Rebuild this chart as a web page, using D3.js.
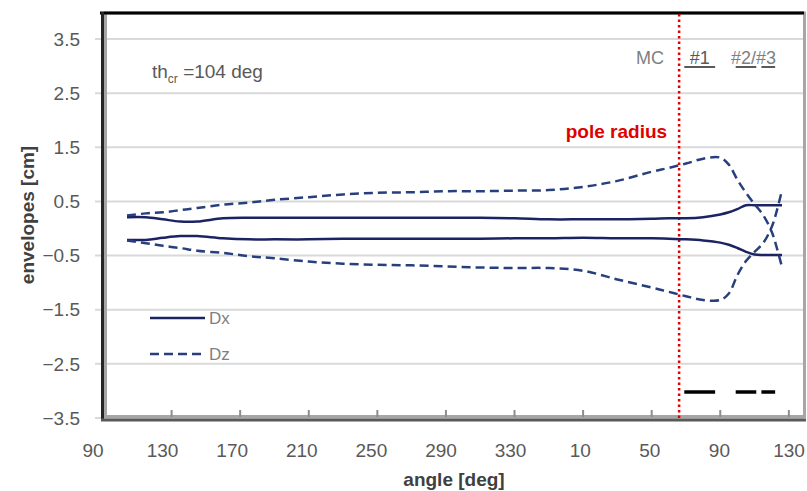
<!DOCTYPE html>
<html>
<head>
<meta charset="utf-8">
<script src="https://cdnjs.cloudflare.com/ajax/libs/d3/7.8.5/d3.min.js"></script>
<style>
body { margin: 0; background: #fff; }
svg text { font-family: "Liberation Sans", Arial, sans-serif; }
</style>
</head>
<body>
<svg id="chart" width="807" height="491"></svg>
<script>
// ===============
// DATA (read off)
// ===============
// angle is unwrapped: 370 = 10 deg, 450 = 90 deg, 490 = 130 deg
var angles  = [104, 115, 125, 135, 145, 160, 175, 190, 210, 230, 250, 270, 290, 310, 330, 350,
               370, 390, 410, 420, 430, 440, 450, 455, 460, 465, 470, 475, 480, 483, 486];
var dxUpper = [0.21, 0.21, 0.17, 0.13, 0.13, 0.19, 0.20, 0.20, 0.20, 0.20, 0.20, 0.20, 0.20, 0.20, 0.19, 0.17,
               0.17, 0.17, 0.18, 0.19, 0.19, 0.21, 0.26, 0.30, 0.36, 0.43, 0.43, 0.43, 0.43, 0.43, 0.43];
var dxLower = [-0.21, -0.21, -0.17, -0.14, -0.14, -0.18, -0.20, -0.20, -0.20, -0.19, -0.19, -0.19, -0.19, -0.19, -0.18, -0.18,
               -0.17, -0.18, -0.18, -0.19, -0.20, -0.22, -0.26, -0.30, -0.36, -0.43, -0.48, -0.49, -0.49, -0.49, -0.49];
var dzUpper = [0.24, 0.28, 0.30, 0.34, 0.38, 0.44, 0.48, 0.53, 0.58, 0.63, 0.66, 0.67, 0.69, 0.69, 0.70, 0.71,
               0.77, 0.88, 1.05, 1.12, 1.20, 1.29, 1.31, 1.18, 0.90, 0.66, 0.45, 0.25, -0.06, -0.36, -0.71];
var dzLower = [-0.22, -0.27, -0.32, -0.36, -0.41, -0.45, -0.51, -0.55, -0.61, -0.65, -0.67, -0.68, -0.70, -0.72, -0.73, -0.73,
               -0.78, -0.94, -1.09, -1.17, -1.25, -1.32, -1.32, -1.20, -0.86, -0.60, -0.43, -0.27, 0.03, 0.33, 0.71];

var xTicks = [90, 130, 170, 210, 250, 290, 330, 370, 410, 450, 490];
var yTicks = [-3.5, -2.5, -1.5, -0.5, 0.5, 1.5, 2.5, 3.5];
var poleAngle = 426;
// magnet regions #1, #2, #3
var magnetSegments = [[429, 447], [459, 471], [474, 482]];

// ########
// # MAIN #
// ########
var svg = d3.select("#chart");

var x = d3.scaleLinear().domain([90, 500]).range([103, 806]);
var xLabel = d3.scaleLinear().domain([90, 490]).range([93, 789]);
var y = d3.scaleLinear().domain([-3.5, 4]).range([418, 12]);

// gridlines
svg.append("g")
    .selectAll("line")
    .data(yTicks).enter()
    .append("line")
    .attr("x1", 95).attr("x2", 804)
    .attr("y1", function (d) { return y(d); })
    .attr("y2", function (d) { return y(d); })
    .attr("stroke", "#d9d9d9")
    .attr("stroke-width", 2);

// plot area border + axes
svg.append("rect")
    .attr("x", 105.5).attr("y", 13)
    .attr("width", 699).attr("height", 403.5)
    .attr("fill", "none")
    .attr("stroke", "#a6a6a6")
    .attr("stroke-width", 3);

svg.append("line").attr("x1", 100).attr("x2", 804).attr("y1", 13).attr("y2", 13)
    .attr("stroke", "#000").attr("stroke-width", 3);
svg.append("line").attr("x1", 102.5).attr("x2", 102.5).attr("y1", 12).attr("y2", 421)
    .attr("stroke", "#262626").attr("stroke-width", 3);
svg.append("line").attr("x1", 101).attr("x2", 806).attr("y1", 420).attr("y2", 420)
    .attr("stroke", "#595959").attr("stroke-width", 3);

// x tick marks (inside)
svg.append("g")
    .selectAll("line")
    .data(xTicks.slice(1)).enter()
    .append("line")
    .attr("x1", function (d) { return x(d); })
    .attr("x2", function (d) { return x(d); })
    .attr("y1", 410).attr("y2", 417)
    .attr("stroke", "#8c8c8c")
    .attr("stroke-width", 2);

// tick labels
svg.append("g")
    .selectAll("text")
    .data(yTicks).enter()
    .append("text")
    .attr("x", 80)
    .attr("y", function (d) { return y(d); })
    .attr("dy", ".35em")
    .attr("text-anchor", "end")
    .attr("font-size", 19)
    .attr("fill", "#595959")
    .text(function (d) { return d3.format(".1f")(d); });

svg.append("g")
    .selectAll("text")
    .data(xTicks).enter()
    .append("text")
    .attr("x", function (d) { return xLabel(d); })
    .attr("y", 457)
    .attr("text-anchor", "middle")
    .attr("font-size", 19)
    .attr("fill", "#595959")
    .text(function (d) { return d % 360; });

// axis titles
svg.append("text")
    .attr("transform", "translate(27,215) rotate(-90)")
    .attr("dy", ".35em")
    .attr("text-anchor", "middle")
    .attr("font-size", 19)
    .attr("font-weight", "bold")
    .attr("fill", "#404040")
    .text("envelopes [cm]");

svg.append("text")
    .attr("x", 454).attr("y", 486)
    .attr("text-anchor", "middle")
    .attr("font-size", 19)
    .attr("font-weight", "bold")
    .attr("fill", "#404040")
    .text("angle [deg]");

// pole radius marker
svg.append("line")
    .attr("x1", x(poleAngle)).attr("x2", x(poleAngle))
    .attr("y1", 14).attr("y2", 421)
    .attr("stroke", "#e00000")
    .attr("stroke-width", 2.5)
    .attr("stroke-dasharray", "2.5,3");

svg.append("text")
    .attr("x", x(poleAngle) - 12).attr("y", 138)
    .attr("text-anchor", "end")
    .attr("font-size", 19)
    .attr("font-weight", "bold")
    .attr("fill", "#e00000")
    .text("pole radius");

// th_cr label
var th = svg.append("text")
    .attr("x", 152).attr("y", 78)
    .attr("font-size", 19)
    .attr("fill", "#595959");
th.append("tspan").text("th");
th.append("tspan").attr("font-size", 12).attr("dy", 5).text("cr");
th.append("tspan").attr("dy", -5).text(" =104 deg");

// magnet labels and marks
svg.append("text")
    .attr("x", 664).attr("y", 64)
    .attr("text-anchor", "end")
    .attr("font-size", 18)
    .attr("fill", "#7f7f7f")
    .text("MC");
svg.append("text")
    .attr("x", x((magnetSegments[0][0] + magnetSegments[0][1]) / 2)).attr("y", 64)
    .attr("text-anchor", "middle")
    .attr("font-size", 18)
    .attr("fill", "#595959")
    .text("#1");
svg.append("text")
    .attr("x", x((magnetSegments[1][0] + magnetSegments[2][1]) / 2) - 2).attr("y", 64)
    .attr("text-anchor", "middle")
    .attr("font-size", 18)
    .attr("fill", "#7f7f7f")
    .text("#2/#3");

svg.append("g")
    .selectAll("line")
    .data(magnetSegments).enter()
    .append("line")
    .attr("x1", function (d) { return x(d[0]); })
    .attr("x2", function (d) { return x(d[1]); })
    .attr("y1", 67).attr("y2", 67)
    .attr("stroke", "#595959")
    .attr("stroke-width", 2);

svg.append("g")
    .selectAll("line")
    .data(magnetSegments).enter()
    .append("line")
    .attr("x1", function (d) { return x(d[0]); })
    .attr("x2", function (d) { return x(d[1]); })
    .attr("y1", 392).attr("y2", 392)
    .attr("stroke", "#000")
    .attr("stroke-width", 3.5);

// ######################
// # envelopes (curves) #
// ######################
var series = [
    {name: "Dx", values: dxUpper, dash: null},
    {name: "Dx", values: dxLower, dash: null},
    {name: "Dz", values: dzUpper, dash: "9,5"},
    {name: "Dz", values: dzLower, dash: "9,5"}
];
var colors = {Dx: "#1c2362", Dz: "#273f7c"};

var line = d3.line()
    .x(function (d, i) { return x(angles[i]); })
    .y(function (d) { return y(d); })
    .curve(d3.curveCatmullRom.alpha(0.5));

svg.append("g")
    .selectAll("path")
    .data(series).enter()
    .append("path")
    .attr("d", function (d) { return line(d.values); })
    .attr("fill", "none")
    .attr("stroke", function (d) { return colors[d.name]; })
    .attr("stroke-width", 2.5)
    .attr("stroke-dasharray", function (d) { return d.dash; });

// legend
var legendItems = [{name: "Dx", dash: null, y: 318}, {name: "Dz", dash: "9,5", y: 354}];
var legend = svg.append("g")
    .selectAll("g")
    .data(legendItems).enter()
    .append("g");
legend.append("line")
    .attr("x1", 150).attr("x2", 205)
    .attr("y1", function (d) { return d.y; })
    .attr("y2", function (d) { return d.y; })
    .attr("stroke", function (d) { return colors[d.name]; })
    .attr("stroke-width", 2.5)
    .attr("stroke-dasharray", function (d) { return d.dash; });
legend.append("text")
    .attr("x", 209)
    .attr("y", function (d) { return d.y; })
    .attr("dy", ".35em")
    .attr("font-size", 17)
    .attr("fill", "#7f7f7f")
    .text(function (d) { return d.name; });
</script>
</body>
</html>
